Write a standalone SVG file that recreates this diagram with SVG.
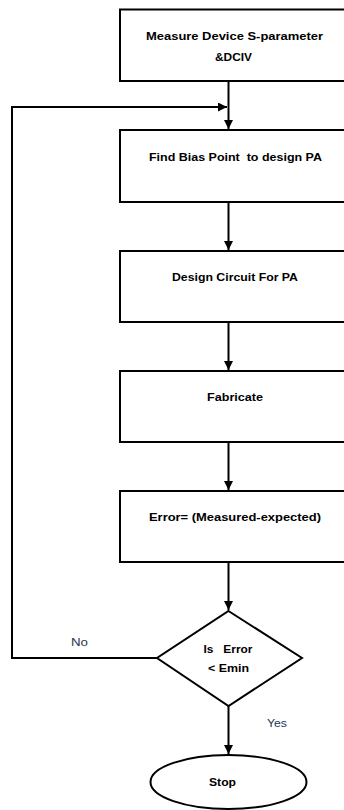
<svg xmlns="http://www.w3.org/2000/svg" width="344" height="810" viewBox="0 0 344 810">
<defs>
<style>
.box{fill:#fff;stroke:#000;stroke-width:2}
.t{font-family:"Liberation Sans",Arial,sans-serif;font-weight:bold;font-size:11.5px;fill:#000;text-anchor:middle}
.lbl{font-family:"Liberation Sans",Arial,sans-serif;font-size:11px;fill:#1f3553;text-anchor:middle}
.c{fill:none;stroke:#000;stroke-width:2}
</style>
<marker id="ah" viewBox="0 0 10 10" refX="10" refY="5" markerWidth="4.5" markerHeight="4.5" orient="auto" markerUnits="strokeWidth">
<path d="M0,0 L10,5 L0,10 z" fill="#000"/>
</marker>
</defs>
<rect width="344" height="810" fill="#fff"/>
<g id="connectors">
<line class="c" x1="228.5" y1="81" x2="228.5" y2="129" marker-end="url(#ah)"/>
<polyline class="c" points="157,658 12,658 12,107 227,107" marker-end="url(#ah)"/>
<line class="c" x1="228.5" y1="202" x2="228.5" y2="250" marker-end="url(#ah)"/>
<line class="c" x1="228.5" y1="322" x2="228.5" y2="370" marker-end="url(#ah)"/>
<line class="c" x1="228.5" y1="442" x2="228.5" y2="490" marker-end="url(#ah)"/>
<line class="c" x1="228.5" y1="562" x2="228.5" y2="610" marker-end="url(#ah)"/>
<line class="c" x1="228.5" y1="706" x2="228.5" y2="754" marker-end="url(#ah)"/>
<text class="lbl" x="79.5" y="646" textLength="17" lengthAdjust="spacingAndGlyphs">No</text>
<text class="lbl" x="277" y="727" textLength="20" lengthAdjust="spacingAndGlyphs">Yes</text>
</g>
<g id="n1">
<rect class="box" x="120" y="9.5" width="240" height="71.5"/>
<text class="t" x="234.5" y="40" textLength="177" lengthAdjust="spacingAndGlyphs">Measure Device S-parameter</text>
<text class="t" x="233.5" y="61" textLength="37" lengthAdjust="spacingAndGlyphs">&amp;DCIV</text>
</g>
<g id="n2">
<rect class="box" x="120" y="130" width="240" height="72"/>
<text class="t" x="235.5" y="161" textLength="173" lengthAdjust="spacingAndGlyphs" xml:space="preserve">Find Bias Point  to design PA</text>
</g>
<g id="n3">
<rect class="box" x="120" y="251" width="240" height="71"/>
<text class="t" x="235" y="281" textLength="126" lengthAdjust="spacingAndGlyphs">Design Circuit For PA</text>
</g>
<g id="n4">
<rect class="box" x="120" y="371" width="240" height="71"/>
<text class="t" x="235" y="401" textLength="56" lengthAdjust="spacingAndGlyphs">Fabricate</text>
</g>
<g id="n5">
<rect class="box" x="120" y="491" width="240" height="71"/>
<text class="t" x="235" y="521" textLength="172" lengthAdjust="spacingAndGlyphs">Error= (Measured-expected)</text>
</g>
<g id="n6">
<polygon class="box" points="228.5,611 302,658 228.5,706 157,658"/>
<text class="t" x="228" y="653" textLength="49" lengthAdjust="spacingAndGlyphs" xml:space="preserve">Is   Error</text>
<text class="t" x="228.5" y="672" textLength="41" lengthAdjust="spacingAndGlyphs">&lt; Emin</text>
</g>
<g id="n7">
<ellipse class="box" cx="228.5" cy="782" rx="78" ry="27"/>
<text class="t" x="222.5" y="786" textLength="27" lengthAdjust="spacingAndGlyphs">Stop</text>
</g>
</svg>
